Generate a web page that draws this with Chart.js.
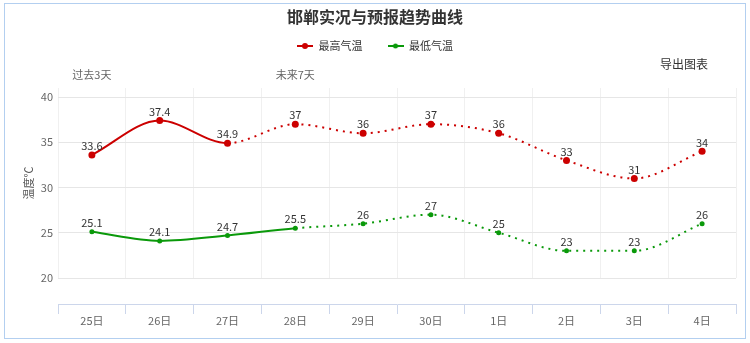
<!DOCTYPE html>
<html>
<head>
<meta charset="utf-8">
<script src="https://cdn.jsdelivr.net/npm/chart.js@4.4.1/dist/chart.umd.min.js"></script>
<style>
  html, body { margin: 0; padding: 0; background: #fff; }
  #wrap { position: relative; width: 750px; height: 343px; }
  #frame { position: absolute; left: 4px; top: 3px; width: 740px; height: 334px; border: 1px solid #b3cff0; pointer-events: none; }
  #export { position: absolute; left: 660px; top: 55px; font: 12px "Noto Sans CJK SC", sans-serif; color: #333; }
</style>
</head>
<body>
<div id="wrap">
  <canvas id="chart"></canvas>
  <div id="frame"></div>
  <div id="export">导出图表</div>
</div>
<script>
// 日期与温度数据
const days = ['25日', '26日', '27日', '28日', '29日', '30日', '1日', '2日', '3日', '4日'];
const periodLabels = ['过去3天', '', '', '未来7天', '', '', '', '', '', ''];
const highTemps = [33.6, 37.4, 34.9, 37, 36, 37, 36, 33, 31, 34];
const lowTemps = [25.1, 24.1, 24.7, 25.5, 26, 27, 25, 23, 23, 26];
const yTicks = [20, 25, 30, 35, 40];

// 实况段最后一个索引（之后为预报，用点线）
const highObservedEnd = 2;
const lowObservedEnd = 3;

const RED = '#cc0000';
const GREEN = '#0a990a';
const FONT = '"Noto Sans CJK SC", "Noto Sans", sans-serif';
Chart.defaults.font.family = FONT;

function legendIcon(color, r) {
  const c = document.createElement('canvas');
  c.width = 16; c.height = 8;
  const g = c.getContext('2d');
  g.strokeStyle = color; g.lineWidth = 2;
  g.beginPath(); g.moveTo(0, 4); g.lineTo(16, 4); g.stroke();
  g.fillStyle = color;
  g.beginPath(); g.arc(8, 4, r, 0, Math.PI * 2); g.fill();
  return c;
}
const legendIcons = [legendIcon(RED, 3), legendIcon(GREEN, 2.5)];

// 在每个数据点上方标注温度
const valueLabels = {
  id: 'valueLabels',
  afterDatasetsDraw(chart) {
    const ctx = chart.ctx;
    ctx.save();
    ctx.font = '11px ' + FONT;
    ctx.fillStyle = '#333';
    ctx.textAlign = 'center';
    ctx.textBaseline = 'middle';
    chart.data.datasets.forEach((ds, i) => {
      chart.getDatasetMeta(i).data.forEach((pt, j) => {
        ctx.fillText(String(ds.data[j]), pt.x, pt.y - 9);
      });
    });
    ctx.restore();
  }
};

const dotted = [2, 5];

new Chart(document.getElementById('chart'), {
  type: 'line',
  data: {
    labels: days,
    datasets: [
      {
        label: '最高气温',
        data: highTemps,
        borderColor: RED,
        backgroundColor: RED,
        borderWidth: 2,
        pointRadius: 3.5,
        pointHoverRadius: 3.5,
        pointBorderWidth: 0,
        cubicInterpolationMode: 'monotone',
        segment: { borderDash: c => c.p0DataIndex >= highObservedEnd ? dotted : undefined }
      },
      {
        label: '最低气温',
        data: lowTemps,
        borderColor: GREEN,
        backgroundColor: GREEN,
        borderWidth: 2,
        pointRadius: 2.5,
        pointHoverRadius: 2.5,
        pointBorderWidth: 0,
        cubicInterpolationMode: 'monotone',
        segment: { borderDash: c => c.p0DataIndex >= lowObservedEnd ? dotted : undefined }
      }
    ]
  },
  options: {
    responsive: true,
    maintainAspectRatio: false,
    animation: false,
    layout: { padding: { top: 0, left: 14, right: 14, bottom: 6 } },
    plugins: {
      tooltip: { enabled: false },
      title: {
        display: true,
        text: '邯郸实况与预报趋势曲线',
        color: '#333',
        font: { size: 16, weight: 'bold' },
        padding: { top: 7, bottom: -10.7 }
      },
      legend: {
        display: true,
        labels: {
          color: '#333',
          font: { size: 11 },
          usePointStyle: true,
          pointStyleWidth: 16,
          padding: 25,
          generateLabels: chart => Chart.defaults.plugins.legend.labels.generateLabels(chart)
            .map((l, i) => Object.assign(l, { pointStyle: legendIcons[i] }))
        }
      }
    },
    scales: {
      xTop: {
        type: 'category',
        position: 'top',
        labels: periodLabels,
        offset: true,
        grid: { display: false },
        border: { display: false },
        ticks: { color: '#666', font: { size: 11 }, padding: -1, autoSkip: false, maxRotation: 0 },
        afterFit: s => { s.height = 26.5; }
      },
      x: {
        type: 'category',
        position: 'bottom',
        weight: 0,
        offset: true,
        grid: { offset: true, color: '#f0f0f0', drawTicks: false },
        border: { display: false },
        ticks: { display: false },
        afterFit: s => { s.height = 26; }
      },
      x2: {
        type: 'category',
        position: 'bottom',
        weight: 1,
        offset: true,
        grid: { offset: true, drawOnChartArea: false, tickLength: 10, color: '#ccd6eb' },
        border: { display: true, color: '#ccd6eb' },
        ticks: { color: '#666', font: { size: 11 }, padding: 0, maxRotation: 0, autoSkip: false },
        afterFit: s => { s.height = 33; }
      },
      y: {
        min: 20,
        max: 41,
        grid: { color: '#e6e6e6', drawTicks: false },
        border: { display: false },
        ticks: { color: '#666', font: { size: 11 }, padding: 5 },
        afterBuildTicks: s => { s.ticks = yTicks.map(v => ({ value: v })); },
        title: { display: true, text: '温度℃', color: '#555', font: { size: 11 }, padding: { top: 8, bottom: 0 } },
        afterFit: s => { s.width = 44; }
      }
    }
  },
  plugins: [valueLabels]
});
</script>
</body>
</html>
